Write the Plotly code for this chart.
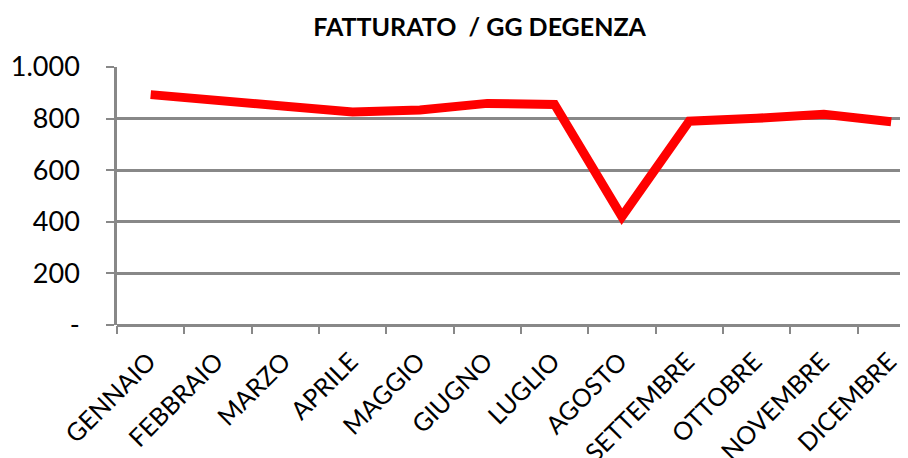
import plotly.graph_objects as go

mesi = ["GENNAIO", "FEBBRAIO", "MARZO", "APRILE", "MAGGIO", "GIUGNO",
        "LUGLIO", "AGOSTO", "SETTEMBRE", "OTTOBRE", "NOVEMBRE", "DICEMBRE"]
fatturato_gg = [893, 874, 848, 826, 833, 859, 855, 420, 790, 801, 817, 788]

y_tickvals = [0, 200, 400, 600, 800, 1000]
y_ticktext = ["-", "200", "400", "600", "800", "1.000"]

font_fam = "Lato, Carlito, sans-serif"

fig = go.Figure()
fig.add_trace(go.Scatter(
    x=mesi, y=fatturato_gg, mode="lines",
    line=dict(color="#ff0000", width=9), showlegend=False,
))

# page body has an 8px margin: compensate so the plot area lands where the reference has it
fig.update_layout(
    width=900, height=450,
    margin=dict(l=109, r=0, t=59, b=133),
    paper_bgcolor="white", plot_bgcolor="white",
    title=dict(text="<b>FATTURATO  / GG DEGENZA</b>", x=0.524, xanchor="center",
               y=0.958, yanchor="middle",
               font=dict(family=font_fam, size=25, color="black")),
    font=dict(family=font_fam, color="black"),
)
fig.update_xaxes(
    type="category", range=[-0.5, 11.25], automargin=False,
    tickangle=-45, tickfont=dict(size=25, color="black"),
    showgrid=False, showline=False, zeroline=False,
    ticks="outside", ticklen=8, tickwidth=2, tickcolor="#888888",
    tickson="boundaries", ticklabelstandoff=16, ticklabelshift=-2,
)
fig.update_yaxes(
    range=[0, 1000], automargin=False,
    tickmode="array", tickvals=y_tickvals, ticktext=y_ticktext,
    tickfont=dict(size=27, color="black"),
    showgrid=True, gridcolor="#888888", gridwidth=2.5,
    showline=True, linecolor="#888888", linewidth=2.5,
    zeroline=True, zerolinecolor="#888888", zerolinewidth=2.5,
    ticks="outside", ticklen=8, tickwidth=2, tickcolor="#888888",
    ticklabelstandoff=21,
)

fig.write_html("out.html")
